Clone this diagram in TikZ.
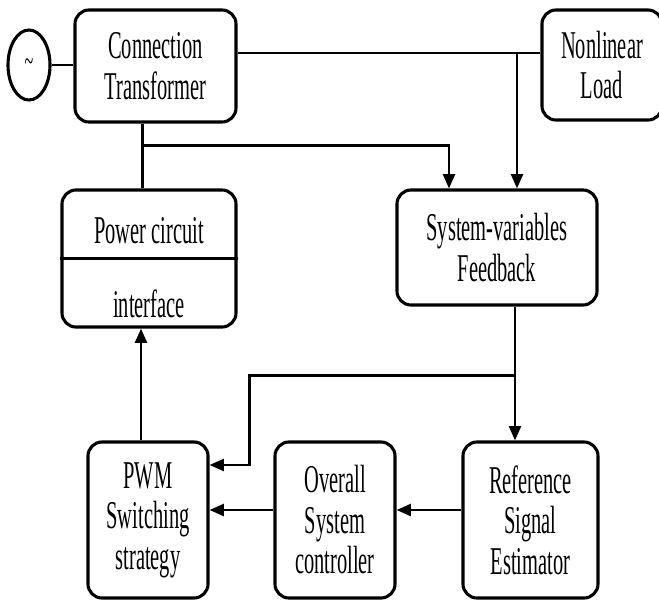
\documentclass[tikz,border=0pt]{standalone}
\usepackage{fontspec}
\setmainfont{Liberation Serif}[FakeStretch=0.52]
\usepackage{tikz}
\usetikzlibrary{shapes.geometric, arrows.meta, positioning, calc}

\begin{document}
\begin{tikzpicture}[
    x=0.025cm, y=-0.025cm,
    % Styles
    blk/.style={rectangle, rounded corners=10pt, draw=black, line width=2.2pt, align=center, inner sep=0pt, font=\fontsize{28}{28.8}\selectfont},
    txt/.style={align=center, inner sep=0pt, font=\fontsize{28}{28.8}\selectfont},
    src/.style={ellipse, draw=black, line width=2.2pt, minimum width=1.05cm, minimum height=1.75cm, inner sep=0pt, font=\fontsize{22}{24}\selectfont},
    wire/.style={line width=1.8pt},
    arrow/.style={-{Triangle[length=0.36cm, width=0.3cm]}, line width=1.8pt},
]
\useasboundingbox (0,0) rectangle (659,601);

% ===== TOP ROW =====
\node[src] (ac) at (29, 65) {\textasciitilde};
\node[blk, minimum width=4.025cm, minimum height=2.8cm] (ct) at (155.5, 66) {Connection\\Transformer};
\node[blk, minimum width=3.0cm, minimum height=2.75cm] (nl) at (602, 65) {Nonlinear\\Load};

% ===== MIDDLE ROW =====
\node[blk, minimum width=4.35cm, minimum height=3.425cm] (pc) at (149, 258.5) {};
\node[txt] (pctext) at ([yshift=-2.2mm]pc.center) {Power circuit\\[24pt]interface};
\draw[wire] (pc.west) -- (pc.east);
\node[blk, minimum width=5.0cm, minimum height=2.875cm] (sv) at (497, 247.5) {System-variables\\Feedback};

% ===== BOTTOM ROW =====
\node[blk, minimum width=3.0cm, minimum height=3.9cm] (pwm) at (148, 520) {PWM\\Switching\\strategy};
\node[blk, minimum width=3.0cm, minimum height=3.9cm] (ov) at (335, 520) {Overall\\System\\controller};
\node[blk, minimum width=3.375cm, minimum height=3.9cm] (ref) at (530.5, 520) {Reference\\Signal\\Estimator};

% ===== CONNECTIONS =====
% Source and load bus
\draw[wire] (ac.east) -- (ac.east -| ct.west);
\draw[wire] ([yshift=3.2mm]ct.east) coordinate (bus) -- (bus -| nl.west);
\draw[arrow] ([xshift=5mm]sv.north |- bus) -- ([xshift=5mm]sv.north);

% Transformer to power circuit and feedback
\draw[wire] ([xshift=-3.25mm]ct.south) coordinate (ctd) -- (ctd |- pc.north);
\draw[arrow] ([yshift=-5.5mm]ctd) -| ([xshift=-12mm]sv.north);

% Feedback to estimator and PWM
\draw[arrow] ([xshift=4.5mm]sv.south) coordinate (fb) -- (fb |- ref.north);
\draw[arrow] ([yshift=-17.25mm]fb) -| ([xshift=10mm, yshift=13.75mm]pwm.east) -- ([yshift=13.75mm]pwm.east);

% Control chain
\draw[arrow] ([yshift=2.5mm]ref.west) -- ([yshift=2.5mm]ov.east);
\draw[arrow] ([yshift=2.5mm]ov.west) -- ([yshift=2.5mm]pwm.east);
\draw[arrow] ([xshift=-1.75mm]pwm.north) -- ([xshift=-1.75mm]pwm.north |- pc.south);

\end{tikzpicture}
\end{document}
